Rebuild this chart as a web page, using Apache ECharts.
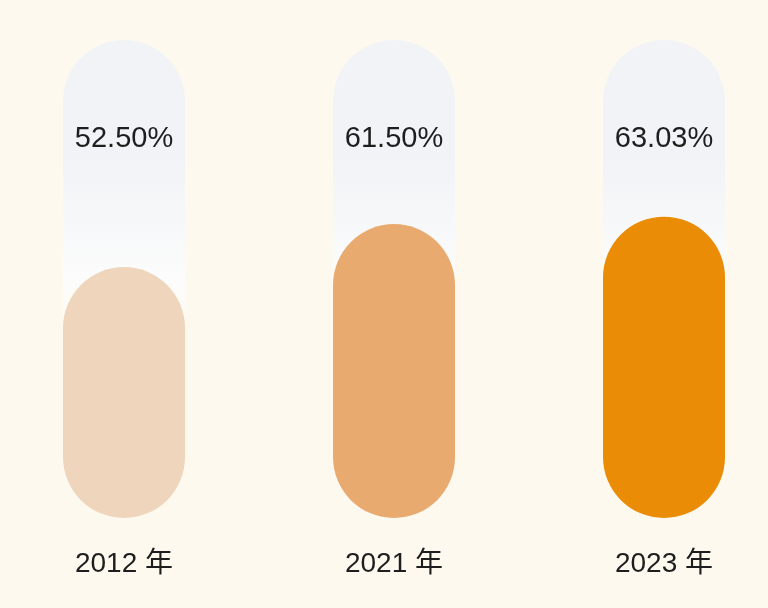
<!DOCTYPE html>
<html><head><meta charset="utf-8">
<script src="https://cdn.jsdelivr.net/npm/echarts@6/dist/echarts.min.js"></script>
<style>html,body{margin:0;padding:0;background:#fdf9ef;}#c{width:768px;height:608px;}</style>
</head><body><div id="c"></div>
<script>
const categories = ['2012 年', '2021 年', '2023 年'];
const values = [52.50, 61.50, 63.03];
const fullValues = [100, 100, 100];
const barColors = ['#efd5bb', '#e9aa6f', '#ea8c05'];

const chart = echarts.init(document.getElementById('c'));
chart.setOption({
  backgroundColor: '#fdf9ef',
  grid: { left: 124, right: 104, top: 40, bottom: 90 },
  xAxis: {
    type: 'category', data: categories, boundaryGap: false,
    axisLine: { show: false }, axisTick: { show: false },
    axisLabel: { margin: 32, fontSize: 28, color: '#1e1e1e', fontFamily: 'Liberation Sans, Noto Sans CJK SC' }
  },
  yAxis: { type: 'value', min: 0, max: 100, show: false, splitLine: { show: false } },
  series: [
    {
      type: 'bar', data: fullValues, barWidth: 122, barGap: '-100%', silent: true,
      itemStyle: {
        borderRadius: 61,
        color: new echarts.graphic.LinearGradient(0, 0, 0, 1, [
          { offset: 0, color: 'rgba(241,243,246,1)' },
          { offset: 0.25, color: 'rgba(241,243,246,1)' },
          { offset: 0.5, color: 'rgba(252,252,252,1)' },
          { offset: 0.6, color: 'rgba(253,251,247,0.5)' },
          { offset: 0.75, color: 'rgba(253,249,239,0)' },
          { offset: 1, color: 'rgba(253,249,239,0)' }
        ])
      },
      label: {
        show: true, position: ['50%', 99], align: 'center', verticalAlign: 'middle',
        fontSize: 29, color: '#1e1e1e', fontFamily: 'Liberation Sans',
        formatter: p => values[p.dataIndex].toFixed(2) + '%'
      },
      z: 1
    },
    {
      type: 'bar', data: values.map((v, i) => ({ value: v, itemStyle: { color: barColors[i] } })),
      barWidth: 122, itemStyle: { borderRadius: 61 }, z: 2
    }
  ]
});
</script></body></html>
